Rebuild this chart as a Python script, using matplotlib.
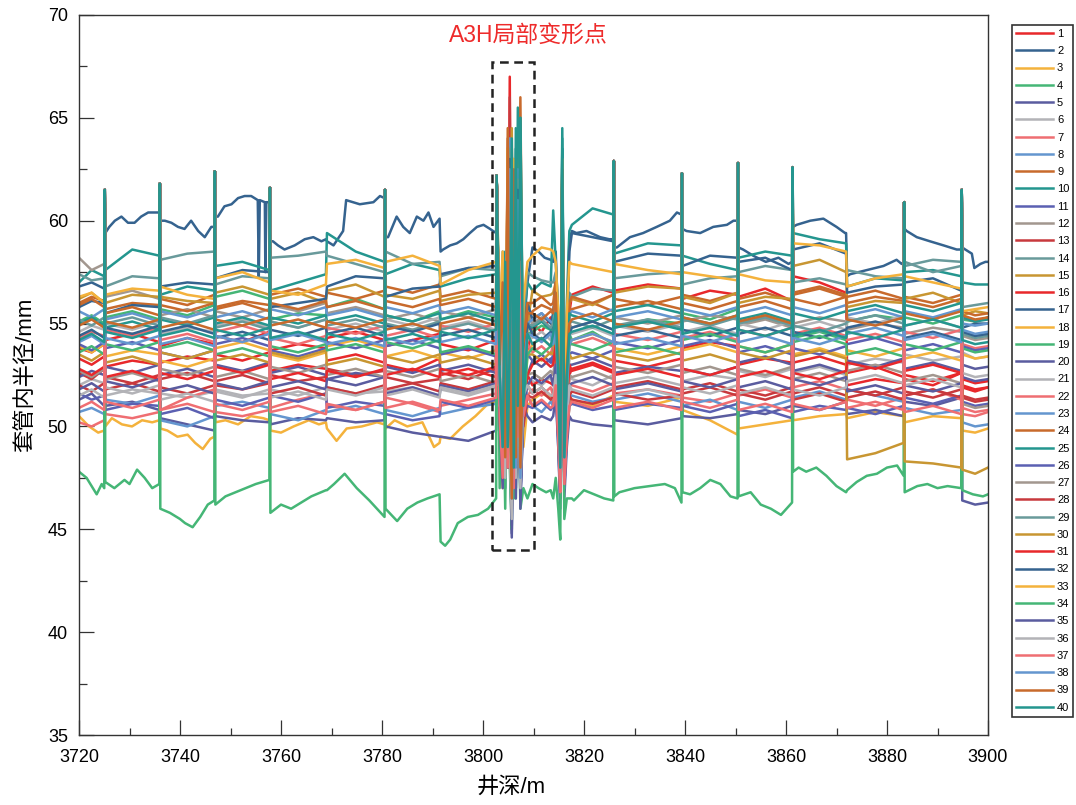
import matplotlib
matplotlib.use("Agg")
import matplotlib.pyplot as plt
from matplotlib.patches import Rectangle

plt.rcParams['font.family'] = ['Liberation Sans', 'Noto Sans CJK SC']

# pipe sections between collars (start / end depth, m)
seg_start = [3720.0, 3725.2, 3736.1, 3747.0, 3757.9, 3769.1, 3780.7, 3791.6, 3809.8,
             3817.6, 3826.0, 3839.5, 3850.6, 3861.4, 3872.1, 3883.5, 3894.9]
seg_end = [3725.0, 3735.9, 3746.8, 3757.7, 3768.9, 3780.5, 3791.4, 3802.6, 3813.4,
           3825.8, 3839.3, 3850.4, 3861.2, 3871.9, 3883.3, 3894.7, 3900.0]

# collar spikes
joint_depth = [3725.1, 3736.0, 3746.9, 3757.8, 3780.6, 3802.7, 3825.9, 3839.4, 3850.5, 3861.3, 3883.4, 3894.8]
joint_peak = [61.5, 61.8, 62.4, 61.6, 61.5, 62.2, 62.9, 62.3, 62.8, 62.6, 60.9, 61.5]

# A3H deformation zone, one row per arm
burst1_depth = [3803.3, 3803.9, 3804.4, 3804.9, 3805.3, 3805.7, 3806.1, 3806.5, 3806.9, 3807.4, 3808.0, 3808.8]
burst1 = [
    [51.5, 48.5, 56.0, 49.5, 67.0, 47.0, 59.0, 48.0, 62.5, 47.5, 52.0, 53.5],
    [53.0, 57.5, 48.5, 61.5, 50.5, 46.5, 62.0, 49.0, 57.0, 48.5, 54.5, 57.0],
    [50.0, 47.0, 56.5, 48.0, 52.0, 61.0, 47.5, 60.0, 50.0, 58.0, 49.0, 51.0],
    [52.0, 49.0, 55.0, 49.5, 63.0, 46.5, 57.5, 47.5, 62.0, 46.5, 52.5, 54.5],
    [50.5, 54.0, 47.5, 60.0, 49.0, 44.6, 60.5, 48.0, 56.0, 47.0, 51.0, 50.5],
    [51.0, 48.0, 57.0, 48.5, 53.0, 62.0, 48.0, 61.0, 50.5, 57.5, 50.0, 52.0],
    [50.5, 47.5, 56.0, 49.0, 65.5, 47.0, 58.0, 47.5, 63.0, 47.0, 51.0, 51.5],
    [51.5, 55.5, 48.0, 62.0, 50.0, 45.5, 61.5, 48.5, 56.0, 47.5, 52.0, 51.5],
    [52.5, 49.0, 57.5, 49.5, 53.5, 63.5, 48.5, 62.5, 51.0, 66.0, 50.5, 55.0],
    [54.5, 50.0, 58.0, 50.5, 64.0, 47.5, 60.5, 49.0, 65.5, 48.0, 55.0, 57.0],
    [50.0, 54.5, 47.0, 60.5, 49.5, 45.0, 60.0, 47.5, 55.0, 46.5, 50.5, 51.0],
    [53.5, 49.5, 57.0, 49.0, 54.0, 62.5, 48.0, 61.5, 50.5, 57.0, 51.5, 55.5],
    [51.0, 48.0, 55.5, 48.5, 66.0, 46.5, 58.5, 47.5, 62.0, 47.0, 51.5, 52.0],
    [54.0, 58.5, 49.5, 62.5, 51.0, 47.0, 61.5, 49.5, 57.5, 49.0, 55.5, 57.5],
    [52.5, 48.5, 57.5, 49.0, 53.0, 64.5, 48.0, 63.0, 51.0, 60.5, 51.0, 55.0],
    [51.0, 55.5, 48.0, 63.0, 50.0, 46.0, 62.5, 48.5, 57.5, 47.5, 51.5, 52.5],
    [53.0, 49.0, 56.5, 49.5, 62.5, 46.5, 59.0, 48.5, 61.0, 48.0, 53.5, 56.0],
    [51.5, 48.0, 56.0, 48.5, 52.5, 63.0, 47.5, 62.0, 50.0, 64.0, 50.5, 53.5],
    [47.0, 53.5, 46.0, 58.0, 48.0, 45.0, 59.0, 46.5, 54.0, 46.0, 47.0, 46.5],
    [51.0, 47.5, 55.5, 48.0, 61.5, 44.8, 57.0, 47.0, 60.5, 46.5, 51.0, 52.5],
    [52.5, 56.5, 48.5, 63.5, 50.5, 46.0, 62.0, 48.5, 56.5, 47.5, 53.0, 54.5],
    [52.0, 48.5, 57.0, 49.0, 53.5, 62.5, 47.5, 61.5, 50.5, 59.0, 51.5, 54.0],
    [53.0, 49.0, 56.0, 49.5, 64.0, 46.0, 58.5, 48.0, 62.5, 47.5, 53.0, 55.0],
    [53.5, 57.0, 48.5, 64.5, 51.0, 46.5, 63.0, 49.0, 58.0, 48.5, 54.0, 56.0],
    [53.0, 49.5, 58.5, 49.5, 54.5, 64.0, 48.5, 63.5, 51.5, 65.0, 51.5, 55.0],
    [51.5, 47.5, 56.0, 48.5, 62.0, 45.5, 57.5, 47.0, 60.0, 46.5, 52.0, 53.5],
    [51.5, 56.0, 48.0, 62.0, 49.5, 46.0, 61.0, 48.0, 56.0, 47.0, 52.0, 52.5],
    [50.5, 47.5, 56.5, 48.0, 52.0, 63.0, 47.0, 61.5, 49.5, 58.5, 50.0, 51.5],
    [53.5, 49.5, 57.5, 49.5, 63.5, 47.0, 59.5, 48.5, 62.0, 48.0, 54.0, 55.0],
    [52.0, 56.5, 48.0, 63.5, 50.5, 46.0, 62.5, 48.0, 57.0, 47.5, 52.5, 53.5],
    [51.0, 48.0, 56.5, 48.5, 53.0, 62.5, 47.5, 61.0, 50.0, 57.0, 50.5, 52.5],
    [53.0, 49.5, 56.5, 49.5, 63.0, 46.5, 58.5, 48.5, 61.5, 48.0, 53.5, 55.0],
    [55.0, 58.5, 49.5, 63.5, 52.0, 47.5, 63.0, 50.0, 59.0, 49.0, 56.0, 58.0],
    [51.5, 47.5, 55.5, 48.5, 52.0, 61.5, 46.5, 60.5, 49.0, 56.5, 50.5, 53.5],
    [50.5, 47.0, 55.0, 48.0, 61.0, 45.2, 57.0, 46.5, 59.5, 46.0, 51.0, 52.0],
    [51.0, 55.0, 47.5, 61.5, 49.5, 45.5, 61.0, 47.5, 55.5, 47.0, 51.5, 52.0],
    [50.5, 47.5, 56.0, 48.0, 52.5, 62.0, 47.0, 60.5, 49.5, 58.0, 50.5, 51.5],
    [52.5, 49.0, 56.0, 49.0, 62.5, 46.5, 58.0, 48.0, 61.0, 47.5, 53.0, 54.5],
    [53.0, 57.0, 48.5, 64.0, 51.0, 46.5, 62.5, 48.5, 58.0, 48.0, 54.0, 55.5],
    [52.5, 49.0, 58.0, 49.0, 54.0, 63.5, 48.0, 64.5, 51.0, 65.0, 51.0, 54.5],
]

# second disturbance near 3815 m, one row per arm
burst2_depth = [3813.9, 3814.4, 3814.9, 3815.3, 3815.7, 3816.1, 3816.6, 3817.1]
burst2 = [
    [54.5, 55.5, 52.0, 47.5, 60.0, 47.0, 50.0, 55.5],
    [58.0, 58.5, 55.0, 49.0, 63.5, 50.0, 55.0, 59.0],
    [51.0, 52.0, 49.5, 46.5, 59.0, 47.5, 49.5, 51.0],
    [54.5, 55.0, 52.0, 48.0, 61.0, 48.5, 52.0, 54.5],
    [50.5, 51.5, 49.0, 46.0, 58.5, 46.5, 49.0, 50.5],
    [52.0, 53.0, 50.0, 47.0, 59.5, 47.5, 50.5, 52.5],
    [51.5, 52.5, 50.0, 47.0, 60.0, 48.0, 50.0, 52.0],
    [51.0, 52.0, 49.5, 46.5, 59.0, 47.0, 49.5, 51.5],
    [55.5, 56.5, 53.0, 48.5, 62.5, 49.0, 53.0, 55.5],
    [60.5, 58.0, 55.5, 49.5, 64.5, 50.5, 56.0, 59.5],
    [51.0, 52.0, 49.0, 46.5, 59.0, 47.0, 49.5, 51.0],
    [55.0, 56.0, 52.5, 48.0, 61.0, 48.5, 52.0, 55.0],
    [51.5, 52.5, 50.0, 47.0, 59.5, 47.5, 50.0, 51.5],
    [57.0, 57.5, 54.0, 49.0, 62.5, 49.5, 54.5, 56.5],
    [56.5, 57.0, 53.5, 48.5, 62.0, 49.0, 53.5, 56.0],
    [52.0, 53.0, 50.5, 47.5, 60.0, 47.2, 50.0, 52.5],
    [55.5, 57.0, 53.5, 48.5, 63.0, 49.5, 54.5, 58.5],
    [54.0, 55.0, 52.0, 47.5, 61.0, 48.0, 51.5, 54.0],
    [46.5, 47.5, 46.0, 44.5, 57.5, 45.5, 46.5, 46.5],
    [53.0, 54.0, 51.0, 47.0, 60.5, 47.5, 51.0, 53.0],
    [54.5, 55.5, 52.5, 48.0, 61.5, 48.5, 52.5, 54.5],
    [54.0, 55.0, 52.0, 48.0, 61.0, 48.0, 52.0, 54.0],
    [55.0, 56.0, 53.0, 48.5, 62.0, 49.0, 53.0, 55.5],
    [56.0, 57.0, 53.5, 48.5, 62.5, 49.5, 53.5, 56.0],
    [55.0, 56.5, 53.0, 48.5, 63.5, 49.0, 53.0, 55.5],
    [53.5, 54.5, 51.5, 47.5, 60.5, 48.0, 51.5, 53.5],
    [52.5, 53.5, 50.5, 47.5, 60.0, 48.0, 50.5, 52.5],
    [51.5, 52.5, 49.5, 47.0, 59.5, 47.5, 49.5, 51.5],
    [55.0, 56.0, 53.0, 48.5, 62.0, 49.0, 53.0, 55.0],
    [53.5, 54.5, 51.5, 47.5, 61.0, 48.0, 51.5, 53.5],
    [53.0, 54.0, 51.0, 47.3, 60.5, 47.5, 51.0, 53.0],
    [54.5, 55.5, 52.5, 48.0, 62.0, 48.5, 52.5, 54.5],
    [58.5, 58.0, 55.5, 49.5, 63.0, 50.0, 55.5, 58.0],
    [54.0, 55.0, 51.5, 47.5, 60.5, 48.0, 51.5, 54.0],
    [52.0, 53.0, 50.5, 47.0, 59.5, 47.5, 50.5, 52.0],
    [51.5, 52.5, 50.0, 47.0, 59.0, 47.5, 50.0, 52.0],
    [51.0, 52.0, 49.5, 46.8, 59.0, 47.2, 49.5, 51.0],
    [54.0, 55.0, 52.0, 48.0, 61.5, 48.5, 52.0, 54.0],
    [55.5, 56.5, 53.0, 48.5, 62.5, 49.0, 53.0, 55.0],
    [54.5, 55.5, 52.5, 48.0, 64.0, 48.5, 52.5, 54.5],
]

# radius per arm: start / middle / end of every pipe section
r1 = [53.8, 53.6, 54.0, 54.2, 54.5, 54.1, 53.9, 54.3, 54.0, 54.4, 54.1, 54.6, 53.7, 54.0, 53.8, 54.3, 54.6, 54.2, 53.9, 54.2, 54.5, 54.0, 53.7, 54.2, 55.0, 54.6, 55.3, 56.4, 56.8, 56.5, 56.6, 56.9, 56.7, 56.2, 56.6, 56.4, 56.3, 56.7, 56.1, 57.3, 57.0, 56.5, 52.6, 52.9, 52.4, 52.3, 52.0, 52.6, 51.9, 51.7, 51.9]
r2 = [56.8, 57.0, 56.7, 59.4, 60.0, 60.4, 60.0, 59.7, 59.7, 60.2, 61.0, 60.9, 59.0, 58.8, 59.1, 59.0, 60.0, 61.1, 59.2, 60.0, 60.1, 58.5, 59.3, 59.4, 58.7, 58.4, 58.1, 59.5, 59.3, 59.1, 58.7, 59.5, 60.3, 59.6, 59.6, 60.0, 58.7, 58.3, 58.0, 59.7, 60.0, 59.4, 57.3, 57.6, 58.0, 59.6, 59.0, 58.6, 58.7, 58.0, 58.0]
r3 = [50.5, 50.2, 49.8, 50.0, 50.2, 50.3, 49.9, 49.4, 49.5, 50.2, 50.1, 50.3, 49.8, 50.1, 50.2, 49.9, 49.4, 50.1, 49.9, 49.5, 49.2, 49.5, 50.3, 51.2, 51.3, 51.6, 51.4, 51.3, 51.0, 51.5, 51.2, 51.0, 51.4, 50.8, 50.3, 49.6, 49.9, 50.1, 50.3, 50.3, 50.5, 50.6, 50.4, 50.7, 50.5, 50.2, 50.5, 50.4, 49.8, 49.7, 49.9]
r4 = [55.1, 55.4, 55.0, 55.3, 55.6, 55.2, 55.7, 55.4, 55.9, 56.3, 56.6, 56.2, 55.2, 55.5, 55.4, 55.8, 56.2, 55.7, 55.4, 55.1, 55.6, 55.2, 55.6, 55.3, 54.6, 54.9, 54.7, 54.2, 54.6, 54.0, 54.8, 55.2, 55.0, 55.5, 55.2, 55.7, 55.0, 55.3, 54.9, 54.3, 54.6, 54.2, 55.1, 55.4, 55.2, 55.3, 55.0, 55.4, 55.2, 55.1, 55.3]
r5 = [51.3, 51.6, 51.0, 51.0, 51.2, 50.8, 50.4, 50.1, 49.8, 50.5, 50.3, 50.2, 50.1, 50.4, 50.3, 50.4, 50.2, 50.3, 50.0, 49.7, 49.5, 49.5, 49.3, 49.8, 50.2, 50.5, 50.3, 50.3, 50.1, 50.0, 50.3, 50.1, 50.4, 50.5, 50.4, 50.6, 50.8, 50.6, 51.0, 51.0, 50.8, 51.2, 50.6, 50.8, 50.5, 51.2, 51.0, 51.4, 46.4, 46.2, 46.3]
r6 = [52.0, 52.3, 52.1, 51.5, 51.8, 51.6, 51.6, 51.4, 51.7, 51.8, 51.5, 51.6, 51.8, 51.5, 51.9, 51.9, 51.6, 51.7, 51.7, 51.9, 51.5, 51.8, 51.5, 51.9, 52.2, 52.0, 52.4, 52.3, 52.0, 52.5, 52.1, 52.4, 52.0, 52.2, 52.5, 52.3, 52.7, 52.4, 52.8, 52.6, 52.9, 52.5, 53.0, 53.3, 53.1, 53.5, 53.2, 53.4, 53.6, 53.3, 53.4]
r7 = [50.2, 50.0, 50.3, 50.6, 50.4, 50.7, 50.8, 51.4, 51.8, 50.7, 50.5, 50.8, 50.9, 51.3, 51.6, 51.0, 50.8, 51.2, 51.4, 51.1, 50.7, 51.0, 51.3, 51.6, 51.8, 51.5, 51.9, 52.0, 51.7, 52.1, 51.6, 51.8, 51.5, 51.4, 51.2, 51.6, 51.5, 51.8, 51.4, 51.9, 52.2, 51.8, 51.3, 51.0, 51.4, 51.5, 51.8, 51.3, 50.6, 50.5, 50.7]
r8 = [50.7, 50.9, 50.6, 51.3, 51.1, 51.5, 50.3, 50.0, 50.5, 51.0, 51.2, 50.9, 50.6, 50.3, 50.8, 50.7, 51.0, 50.6, 50.8, 50.5, 50.9, 50.6, 50.9, 51.1, 51.0, 50.7, 51.2, 51.5, 51.2, 51.4, 51.3, 51.6, 51.2, 51.0, 51.3, 50.8, 51.2, 50.9, 51.3, 51.4, 51.7, 51.3, 51.8, 51.5, 51.2, 50.9, 50.6, 50.8, 50.2, 50.0, 50.1]
r9 = [56.0, 56.3, 56.1, 55.7, 56.0, 55.9, 56.2, 55.9, 56.4, 55.8, 56.1, 55.9, 56.4, 56.7, 56.3, 56.5, 56.2, 56.6, 56.8, 56.5, 56.9, 56.3, 56.6, 56.2, 55.6, 55.9, 55.7, 55.7, 56.0, 55.6, 56.2, 55.9, 56.3, 56.4, 56.1, 56.5, 56.2, 56.5, 56.1, 56.5, 56.8, 56.4, 56.0, 56.3, 56.1, 56.3, 56.0, 56.4, 55.3, 55.1, 55.3]
r10 = [57.0, 57.6, 57.3, 57.6, 58.6, 58.3, 56.4, 56.8, 56.6, 57.8, 58.0, 57.6, 56.6, 57.0, 57.4, 59.4, 58.5, 58.0, 57.4, 57.9, 57.6, 56.8, 57.2, 57.4, 56.6, 57.0, 56.8, 59.8, 60.6, 60.3, 58.4, 58.9, 58.8, 58.3, 57.9, 57.6, 58.2, 58.5, 58.3, 59.4, 59.1, 58.9, 56.8, 57.2, 57.1, 57.5, 57.6, 57.3, 57.0, 56.9, 56.9]
r11 = [51.6, 51.3, 51.5, 50.8, 51.1, 51.0, 50.6, 50.9, 50.4, 51.3, 51.0, 51.4, 51.5, 51.2, 51.6, 50.9, 51.2, 51.0, 50.6, 50.3, 50.5, 51.2, 50.9, 51.3, 50.9, 51.2, 50.8, 51.1, 50.8, 51.0, 50.8, 51.1, 50.9, 51.0, 50.7, 51.1, 50.5, 50.8, 50.4, 50.7, 51.0, 50.8, 50.9, 50.6, 51.0, 51.4, 51.1, 51.5, 51.2, 51.0, 51.1]
r12 = [58.2, 57.6, 57.9, 56.3, 56.6, 56.2, 55.4, 55.7, 55.3, 55.6, 55.3, 55.7, 55.9, 55.6, 56.0, 55.5, 55.8, 55.4, 55.2, 55.5, 55.1, 55.6, 55.3, 55.7, 55.0, 55.3, 55.1, 54.8, 55.1, 54.7, 55.3, 55.0, 55.4, 55.1, 55.4, 55.2, 54.9, 55.2, 54.8, 55.0, 55.3, 55.1, 54.7, 55.0, 54.8, 54.5, 54.8, 54.6, 54.4, 54.2, 54.3]
r13 = [52.6, 52.3, 52.8, 52.4, 52.1, 52.5, 52.3, 52.6, 52.2, 52.0, 51.8, 52.1, 52.5, 52.2, 52.4, 52.8, 52.5, 52.7, 52.4, 52.1, 52.3, 52.6, 52.3, 52.8, 51.6, 51.9, 51.5, 51.3, 51.1, 51.4, 51.6, 51.3, 51.5, 51.8, 52.1, 51.7, 51.6, 51.3, 51.7, 51.3, 51.6, 51.2, 51.8, 51.5, 51.9, 51.5, 51.8, 51.4, 51.4, 51.2, 51.3]
r14 = [57.4, 57.1, 57.2, 56.8, 57.3, 57.2, 58.1, 58.4, 58.5, 56.9, 57.3, 57.2, 58.2, 58.3, 58.5, 58.3, 57.9, 57.5, 58.5, 57.9, 58.0, 57.3, 57.7, 57.6, 57.3, 57.1, 57.0, 56.3, 56.7, 56.6, 57.2, 57.4, 57.5, 56.9, 57.2, 57.3, 57.5, 57.8, 57.6, 57.0, 57.2, 56.9, 57.6, 57.3, 57.2, 57.8, 58.1, 58.0, 55.8, 55.9, 56.0]
r15 = [56.2, 56.5, 56.0, 56.0, 56.4, 56.3, 56.3, 56.1, 56.0, 56.5, 56.8, 56.4, 56.2, 56.5, 56.0, 56.6, 56.9, 56.3, 56.4, 56.2, 56.6, 56.1, 56.4, 56.5, 56.6, 56.3, 56.4, 56.2, 55.9, 56.4, 56.5, 56.8, 56.7, 56.3, 56.0, 56.5, 56.0, 56.3, 56.2, 57.8, 58.1, 57.5, 55.8, 56.1, 56.0, 56.2, 56.5, 56.0, 55.4, 55.6, 55.5]
r16 = [53.3, 53.0, 53.4, 52.9, 53.2, 53.0, 53.1, 53.4, 53.2, 53.5, 53.2, 53.6, 52.7, 53.0, 52.8, 53.2, 53.5, 53.1, 53.0, 52.7, 53.3, 52.5, 52.8, 52.4, 52.0, 52.3, 52.1, 52.8, 53.1, 52.7, 53.2, 52.9, 53.3, 53.8, 54.1, 53.9, 53.0, 53.3, 53.1, 53.1, 53.4, 53.0, 52.0, 52.3, 52.1, 52.5, 52.2, 52.6, 52.0, 51.8, 51.9]
r17 = [55.8, 56.1, 56.0, 55.5, 55.9, 55.8, 56.8, 57.0, 56.9, 57.2, 57.6, 57.5, 55.8, 56.0, 56.2, 56.8, 57.3, 57.2, 56.3, 56.7, 56.8, 57.4, 57.7, 57.8, 55.2, 55.5, 55.0, 59.4, 59.2, 59.0, 58.0, 58.4, 58.3, 57.8, 58.3, 58.2, 58.0, 58.2, 57.6, 58.6, 58.9, 58.4, 56.5, 56.8, 56.9, 57.0, 57.2, 56.6, 54.8, 55.0, 55.0]
r18 = [53.9, 53.6, 54.0, 53.4, 53.7, 53.5, 53.2, 52.9, 53.3, 53.8, 54.1, 53.7, 53.5, 53.2, 53.6, 53.9, 54.2, 53.8, 53.4, 53.7, 53.3, 53.6, 53.3, 53.7, 54.0, 54.3, 53.9, 54.2, 54.5, 54.1, 53.8, 53.5, 53.9, 53.7, 54.0, 53.6, 53.9, 53.6, 54.0, 53.5, 53.8, 53.4, 53.7, 53.4, 53.8, 53.3, 53.6, 53.2, 53.5, 53.3, 53.4]
r19 = [47.8, 47.3, 47.0, 47.3, 47.4, 47.2, 46.0, 45.4, 46.4, 46.2, 46.8, 47.4, 45.8, 46.2, 46.9, 46.9, 47.2, 45.6, 46.0, 46.0, 46.7, 44.4, 45.4, 46.5, 47.2, 47.0, 46.9, 46.5, 46.7, 46.4, 46.6, 47.0, 46.3, 46.8, 47.0, 46.5, 46.6, 46.1, 46.3, 47.8, 47.7, 46.8, 46.9, 47.6, 47.6, 46.8, 47.1, 47.0, 46.9, 46.7, 46.7]
r20 = [52.4, 52.7, 52.5, 52.9, 52.6, 53.0, 52.5, 52.8, 52.4, 53.0, 52.7, 53.1, 52.6, 52.9, 52.5, 52.3, 52.6, 52.4, 52.9, 52.6, 53.0, 52.7, 53.0, 52.6, 53.2, 52.9, 53.3, 53.0, 53.3, 52.9, 52.6, 52.9, 52.7, 52.8, 52.5, 52.9, 53.1, 53.4, 53.0, 52.7, 53.0, 52.6, 53.2, 52.9, 53.3, 52.8, 53.1, 52.7, 53.0, 52.8, 52.9]
r21 = [54.6, 54.9, 54.7, 55.0, 54.7, 55.1, 54.5, 54.8, 54.6, 54.9, 55.2, 54.8, 55.1, 54.8, 55.2, 54.7, 55.0, 54.6, 55.2, 54.9, 55.3, 54.8, 55.1, 54.7, 54.3, 54.6, 54.2, 54.5, 54.8, 54.4, 54.9, 54.6, 55.0, 54.6, 54.9, 54.5, 55.0, 54.7, 55.1, 54.8, 55.1, 54.7, 55.3, 55.0, 55.4, 54.9, 55.2, 54.8, 54.6, 54.4, 54.5]
r22 = [54.3, 54.6, 54.4, 54.7, 54.4, 54.8, 54.2, 54.5, 54.1, 54.6, 54.9, 54.5, 54.3, 54.0, 54.4, 54.8, 54.5, 54.9, 54.4, 54.7, 54.3, 54.9, 54.6, 55.0, 53.6, 53.9, 53.5, 54.0, 54.3, 53.9, 54.5, 54.2, 54.6, 54.3, 54.6, 54.2, 54.7, 54.4, 54.8, 54.5, 54.8, 54.4, 54.2, 54.5, 54.1, 54.6, 54.3, 54.7, 54.0, 53.8, 53.9]
r23 = [55.6, 55.3, 55.7, 55.2, 55.5, 55.1, 55.6, 55.3, 55.7, 55.3, 55.6, 55.2, 55.7, 55.4, 55.8, 55.4, 55.7, 55.3, 55.8, 55.5, 55.9, 55.5, 55.8, 55.4, 55.2, 55.5, 55.1, 55.6, 55.3, 55.7, 55.3, 55.6, 55.2, 55.7, 55.4, 55.8, 55.5, 55.8, 55.4, 55.8, 55.5, 55.9, 55.4, 55.7, 55.3, 55.6, 55.3, 55.7, 55.0, 54.9, 55.0]
r24 = [55.9, 56.2, 55.8, 55.5, 55.8, 55.4, 55.9, 55.6, 56.0, 55.7, 56.0, 55.6, 56.0, 55.7, 56.1, 55.8, 56.1, 55.7, 56.1, 55.8, 56.2, 55.9, 56.2, 55.8, 56.0, 56.3, 55.9, 56.3, 56.0, 56.4, 55.8, 56.1, 55.7, 56.0, 55.7, 56.1, 55.8, 56.1, 55.7, 56.2, 55.9, 56.3, 56.3, 56.6, 56.2, 56.1, 55.8, 56.2, 55.6, 55.4, 55.5]
r25 = [55.0, 55.3, 54.9, 54.8, 55.1, 54.7, 55.2, 54.9, 55.3, 55.0, 55.3, 54.9, 55.3, 55.0, 55.4, 55.1, 55.4, 55.0, 55.4, 55.1, 55.5, 55.2, 55.5, 55.1, 54.8, 55.1, 54.7, 55.4, 55.1, 55.5, 55.6, 55.9, 55.5, 55.3, 55.0, 55.4, 55.2, 55.5, 55.1, 55.5, 55.2, 55.6, 55.6, 55.9, 55.5, 55.9, 55.6, 56.0, 55.3, 55.1, 55.2]
r26 = [54.0, 53.7, 54.1, 53.8, 54.1, 53.7, 53.6, 53.3, 53.7, 54.0, 54.3, 53.9, 53.7, 53.4, 53.8, 54.1, 53.8, 54.2, 53.9, 54.2, 53.8, 53.5, 53.8, 53.4, 53.2, 53.5, 53.1, 53.6, 53.3, 53.7, 54.1, 53.8, 54.2, 53.9, 54.2, 53.8, 53.6, 53.9, 53.5, 53.8, 53.5, 53.9, 54.0, 54.3, 53.9, 53.7, 54.0, 53.6, 53.9, 53.7, 53.8]
r27 = [52.7, 52.4, 52.8, 52.3, 52.6, 52.2, 52.8, 52.5, 52.9, 52.4, 52.7, 52.3, 52.9, 52.6, 53.0, 52.5, 52.8, 52.4, 52.7, 52.4, 52.8, 52.2, 52.5, 52.1, 52.6, 52.3, 52.7, 52.4, 52.7, 52.3, 52.9, 52.6, 53.0, 52.6, 52.9, 52.5, 52.8, 52.5, 52.9, 52.3, 52.6, 52.2, 52.7, 53.0, 52.6, 52.2, 52.5, 52.1, 51.1, 50.9, 51.0]
r28 = [52.0, 51.7, 52.1, 51.8, 52.1, 51.7, 51.9, 51.6, 52.0, 52.2, 52.5, 52.1, 51.6, 51.9, 51.5, 51.9, 51.6, 52.0, 51.8, 52.1, 51.7, 52.1, 51.8, 52.2, 51.4, 51.7, 51.3, 51.7, 51.4, 51.8, 51.9, 52.2, 51.8, 51.6, 51.9, 51.5, 51.8, 51.5, 51.9, 51.6, 51.9, 51.5, 51.4, 51.7, 51.3, 51.7, 51.4, 51.8, 51.5, 51.3, 51.4]
r29 = [55.2, 54.9, 55.3, 55.0, 55.3, 54.9, 55.3, 55.0, 55.4, 54.8, 55.1, 54.7, 55.1, 54.8, 55.2, 54.9, 55.2, 54.8, 55.0, 54.7, 55.1, 54.7, 55.0, 54.6, 54.9, 55.2, 54.8, 55.1, 54.8, 55.2, 54.9, 55.2, 54.8, 55.2, 54.9, 55.3, 55.0, 55.3, 54.9, 54.9, 54.6, 55.0, 55.1, 55.4, 55.0, 58.0, 57.5, 57.8, 54.5, 54.3, 54.4]
r30 = [53.5, 53.2, 53.6, 53.1, 53.4, 53.0, 53.6, 53.3, 53.7, 53.2, 53.5, 53.1, 53.6, 53.3, 53.7, 53.0, 53.3, 52.9, 53.4, 53.1, 53.5, 53.1, 53.4, 53.0, 53.5, 53.2, 53.6, 53.3, 53.6, 53.2, 53.5, 53.2, 53.6, 53.2, 53.5, 53.1, 53.6, 53.3, 53.7, 53.4, 53.7, 53.3, 48.4, 48.7, 49.2, 48.3, 48.2, 48.0, 47.9, 47.7, 48.0]
r31 = [52.8, 52.5, 52.9, 52.4, 52.7, 52.3, 52.6, 52.3, 52.7, 52.9, 52.6, 53.0, 52.3, 52.6, 52.2, 52.7, 52.4, 52.8, 52.5, 52.8, 52.4, 52.8, 52.5, 52.9, 53.0, 53.3, 52.9, 52.7, 53.0, 52.6, 52.5, 52.8, 52.4, 52.8, 52.5, 52.9, 52.4, 52.7, 52.3, 52.6, 52.3, 52.7, 53.1, 52.8, 53.2, 52.7, 53.0, 52.6, 52.3, 52.1, 52.2]
r32 = [54.4, 54.7, 54.3, 54.8, 54.5, 54.9, 54.6, 54.9, 54.5, 54.3, 54.6, 54.2, 54.7, 54.4, 54.8, 54.5, 54.8, 54.4, 54.9, 54.6, 55.0, 54.4, 54.7, 54.3, 54.5, 54.2, 54.6, 54.8, 55.1, 54.7, 54.4, 54.7, 54.3, 54.7, 54.4, 54.8, 54.5, 54.8, 54.4, 54.6, 54.3, 54.7, 54.8, 55.1, 54.7, 54.3, 54.6, 54.2, 54.6, 54.4, 54.5]
r33 = [56.3, 56.5, 56.0, 56.4, 56.7, 56.6, 56.8, 56.4, 56.2, 57.2, 57.5, 57.0, 56.6, 56.4, 56.9, 57.9, 58.1, 57.7, 58.0, 58.3, 57.8, 56.9, 57.6, 58.0, 58.3, 58.7, 58.6, 57.9, 57.7, 57.5, 57.9, 57.6, 57.4, 57.5, 57.3, 57.1, 57.4, 57.1, 57.0, 58.9, 58.8, 58.5, 56.8, 57.2, 57.4, 57.3, 57.0, 56.7, 55.6, 55.7, 55.8]
r34 = [53.6, 53.9, 53.5, 54.0, 53.7, 54.1, 53.8, 54.1, 53.7, 53.5, 53.8, 53.4, 53.9, 53.6, 54.0, 53.7, 54.0, 53.6, 54.1, 53.8, 54.2, 53.6, 53.9, 53.5, 53.8, 53.5, 53.9, 54.0, 53.7, 54.1, 53.6, 53.9, 53.5, 54.2, 54.5, 54.1, 53.9, 53.6, 54.0, 54.1, 54.4, 54.0, 53.5, 53.8, 53.4, 54.0, 53.7, 54.1, 53.8, 53.6, 53.7]
r35 = [51.8, 52.1, 51.7, 52.2, 51.9, 52.3, 51.7, 52.0, 51.6, 52.1, 51.8, 52.2, 51.9, 52.2, 51.8, 52.3, 52.0, 52.4, 51.6, 51.9, 51.5, 52.0, 51.7, 52.1, 52.4, 52.1, 52.5, 52.1, 52.4, 52.0, 51.8, 52.1, 51.7, 52.2, 51.9, 52.3, 51.9, 52.2, 51.8, 52.3, 52.0, 52.4, 51.7, 52.0, 51.6, 52.0, 51.7, 52.1, 52.4, 52.2, 52.3]
r36 = [51.5, 51.8, 51.4, 51.9, 51.6, 52.0, 51.3, 51.6, 51.2, 51.7, 51.4, 51.8, 51.4, 51.7, 51.3, 51.8, 51.5, 51.9, 51.5, 51.8, 51.4, 51.9, 51.6, 52.0, 51.6, 51.9, 51.5, 51.8, 51.5, 51.9, 51.5, 51.8, 51.4, 51.9, 51.6, 52.0, 51.6, 51.9, 51.5, 51.8, 51.5, 51.9, 52.2, 52.5, 52.1, 52.0, 52.3, 51.9, 52.6, 52.4, 52.5]
r37 = [50.9, 51.2, 50.8, 51.2, 50.9, 51.3, 50.8, 51.1, 50.7, 51.1, 50.8, 51.2, 50.7, 51.0, 50.6, 51.1, 50.8, 51.2, 50.9, 51.2, 50.8, 51.3, 51.0, 51.4, 51.0, 51.3, 50.9, 51.2, 50.9, 51.3, 50.9, 51.2, 50.8, 51.2, 50.9, 51.3, 50.8, 51.1, 50.7, 51.1, 50.8, 51.2, 50.9, 51.2, 50.8, 50.7, 51.0, 50.6, 50.9, 50.7, 50.8]
r38 = [54.1, 54.4, 54.0, 54.3, 54.0, 54.4, 54.0, 54.3, 53.9, 54.4, 54.1, 54.5, 54.2, 54.5, 54.1, 54.0, 54.3, 53.9, 54.3, 54.0, 54.4, 54.1, 54.4, 54.0, 54.4, 54.1, 54.5, 54.2, 54.5, 54.1, 54.0, 54.3, 53.9, 54.4, 54.1, 54.5, 54.1, 54.4, 54.0, 54.3, 54.0, 54.4, 54.5, 54.8, 54.4, 54.2, 54.5, 54.1, 54.7, 54.5, 54.6]
r39 = [54.9, 55.2, 54.8, 55.1, 54.8, 55.2, 54.8, 55.1, 54.7, 55.2, 54.9, 55.3, 54.9, 55.2, 54.8, 55.1, 54.8, 55.2, 54.7, 55.0, 54.6, 55.0, 55.3, 54.9, 55.5, 55.2, 55.6, 55.2, 55.5, 55.1, 55.0, 54.7, 55.1, 55.3, 55.0, 55.4, 55.1, 55.4, 55.0, 56.4, 56.7, 56.3, 55.2, 54.9, 55.3, 55.5, 55.2, 55.6, 55.4, 55.2, 55.3]
r40 = [54.2, 54.5, 54.1, 54.6, 54.3, 54.7, 54.4, 54.7, 54.3, 54.7, 54.4, 54.8, 54.3, 54.6, 54.2, 54.5, 54.2, 54.6, 54.2, 54.5, 54.1, 54.6, 54.3, 54.7, 54.0, 54.3, 53.9, 54.6, 54.9, 54.5, 54.8, 55.1, 54.7, 54.5, 54.8, 54.4, 54.7, 54.4, 54.8, 54.4, 54.7, 54.3, 54.6, 54.3, 54.7, 54.9, 55.2, 54.8, 54.2, 54.0, 54.1]

# finer readings for the isolated arms (top dark blue, bottom green, lowest yellow)
r2_fine_depth = [3726.0, 3727.1, 3728.4, 3729.7, 3731.0, 3732.3, 3733.7, 3735.0,
                 3737.0, 3738.3, 3739.6, 3740.9, 3742.2, 3743.6, 3744.9, 3746.2,
                 3747.5, 3748.8, 3750.2, 3751.5, 3752.8, 3754.1, 3755.4, 3755.6, 3755.8, 3756.8, 3756.9, 3757.1,
                 3758.4, 3759.4, 3760.7, 3762.7, 3764.7, 3766.4, 3768.0,
                 3770.4, 3772.3, 3772.9, 3775.6, 3778.3, 3779.6,
                 3781.2, 3782.9, 3784.2, 3785.5, 3786.9, 3788.2, 3789.2, 3790.2,
                 3792.1, 3793.5, 3794.8, 3796.1, 3797.4, 3798.8, 3800.1, 3801.4,
                 3811.0, 3812.2,
                 3818.5, 3820.5, 3823.2, 3825.0,
                 3826.5, 3829.1, 3831.7, 3834.4, 3837.0, 3838.4,
                 3840.3, 3843.0, 3845.6, 3848.3, 3849.6,
                 3851.5, 3853.5, 3856.0, 3858.5, 3860.5,
                 3862.1, 3864.8, 3867.4, 3870.0, 3871.7,
                 3872.7, 3876.0, 3879.3, 3881.9, 3882.9,
                 3883.9, 3885.9, 3888.5, 3891.2, 3893.8,
                 3895.5, 3896.8, 3897.3, 3898.5, 3899.5]
r2_fine = [59.7, 60.0, 60.2, 59.9, 59.9, 60.2, 60.4, 60.4,
           60.0, 59.9, 59.7, 59.6, 60.0, 59.5, 59.2, 59.7,
           60.2, 60.7, 60.8, 61.1, 61.2, 61.2, 61.0, 57.3, 61.0, 60.9, 57.5, 60.9,
           59.0, 58.8, 58.6, 58.8, 59.1, 59.2, 59.0,
           58.8, 59.5, 61.0, 60.8, 60.9, 61.2,
           59.2, 60.2, 59.7, 59.4, 60.2, 60.0, 60.4, 59.7,
           58.6, 58.8, 58.9, 59.1, 59.4, 59.7, 59.8, 59.6,
           58.5, 58.2,
           59.4, 59.5, 59.2, 59.1,
           58.7, 59.2, 59.4, 59.7, 60.0, 60.4,
           59.5, 59.4, 59.7, 59.8, 60.0,
           58.6, 58.3, 58.0, 58.2, 57.9,
           59.8, 60.0, 60.1, 59.7, 59.4,
           57.4, 57.6, 57.8, 58.1, 57.9,
           59.5, 59.2, 59.0, 58.8, 58.6,
           58.6, 58.4, 57.7, 57.9, 58.0]

r19_fine_depth = [3721.5, 3723.5, 3724.5,
                  3727.0, 3729.0, 3730.0, 3731.5, 3733.0, 3734.5,
                  3738.0, 3740.0, 3741.0, 3742.5, 3744.0, 3745.5,
                  3749.0, 3751.0, 3753.0, 3755.0,
                  3760.0, 3762.0, 3764.0, 3766.0,
                  3770.5, 3772.6, 3775.0, 3777.5,
                  3783.0, 3785.0, 3787.0, 3789.0,
                  3792.5, 3793.5, 3795.0, 3797.0, 3799.0, 3801.0,
                  3811.0, 3812.5,
                  3818.0, 3820.0, 3822.0, 3824.0,
                  3827.0, 3830.0, 3833.0, 3836.0, 3838.0,
                  3841.0, 3843.0, 3845.0, 3847.0, 3849.0,
                  3853.0, 3855.0, 3857.0, 3859.0,
                  3862.5, 3864.0, 3866.0, 3868.0, 3870.0,
                  3874.0, 3876.0, 3878.0, 3880.0, 3882.0,
                  3886.0, 3888.0, 3890.0, 3892.0,
                  3897.0, 3899.0]
r19_fine = [47.5, 46.7, 47.2,
            47.0, 47.4, 47.2, 47.9, 47.5, 47.0,
            45.8, 45.5, 45.3, 45.1, 45.6, 46.2,
            46.6, 46.8, 47.0, 47.2,
            46.2, 46.0, 46.3, 46.6,
            47.2, 47.7, 47.0, 46.4,
            45.4, 46.0, 46.3, 46.5,
            44.2, 44.5, 45.3, 45.6, 45.7, 46.0,
            47.0, 46.8,
            46.4, 46.9, 46.7, 46.5,
            46.8, 47.0, 47.1, 47.2, 47.0,
            46.7, 47.0, 47.4, 47.2, 46.6,
            46.8, 46.2, 46.0, 45.7,
            48.0, 47.8, 48.0, 47.6, 47.1,
            47.3, 47.6, 47.7, 48.0, 48.1,
            47.1, 47.2, 47.0, 47.1,
            46.7, 46.6]

r3_fine_depth = [3722.0, 3723.8,
                 3726.5, 3728.5, 3730.5, 3732.5, 3734.5,
                 3737.5, 3739.5, 3741.5, 3743.0, 3744.5, 3746.0,
                 3749.0, 3751.5, 3754.0, 3756.5,
                 3760.0, 3762.5, 3765.5, 3767.5,
                 3771.0, 3773.0, 3776.0, 3779.0,
                 3782.5, 3785.0, 3788.0, 3790.3,
                 3793.5, 3796.0, 3798.5, 3801.0]
r3_fine = [50.0, 49.7,
           50.4, 50.1, 50.0, 50.3, 50.2,
           49.8, 49.5, 49.6, 49.2, 48.9, 49.4,
           50.3, 50.1, 50.5, 50.4,
           49.7, 50.0, 50.3, 50.1,
           49.3, 49.9, 50.0, 50.2,
           50.3, 50.0, 50.2, 49.0,
           49.4, 50.0, 50.5, 51.1]

curves = [r1, r2, r3, r4, r5, r6, r7, r8, r9, r10, r11, r12, r13, r14, r15, r16, r17, r18, r19, r20,
          r21, r22, r23, r24, r25, r26, r27, r28, r29, r30, r31, r32, r33, r34, r35, r36, r37, r38, r39, r40]
fine = {1: (r2_fine_depth, r2_fine), 2: (r3_fine_depth, r3_fine), 18: (r19_fine_depth, r19_fine)}

palette = ['#e8282b', '#35638f', '#f4b23c', '#45b676', '#5a5c9f', '#b3b3b7', '#ef6e72', '#6496cf',
           '#c86a2c', '#24968f', '#5b60b2', '#a2978f', '#c8393d', '#699a9b', '#c89632']


def build_track(vals, n):
    xs, ys = [], []
    for k in range(len(seg_start)):
        a, b = seg_start[k], seg_end[k]
        inner = []
        if n in fine:
            fd, fv = fine[n]
            inner = [(d, v) for d, v in zip(fd, fv) if a < d < b]
        if inner:
            xs += [a] + [d for d, _ in inner] + [b]
            ys += [vals[3 * k]] + [v for _, v in inner] + [vals[3 * k + 2]]
        else:
            xs += [a, (a + b) / 2, b]
            ys += vals[3 * k:3 * k + 3]
        nxt = seg_start[k + 1] if k + 1 < len(seg_start) else 1e9
        for d, p in zip(joint_depth, joint_peak):
            if b < d < nxt:
                xs.append(d)
                ys.append(p)
        if k == 7:
            xs += burst1_depth
            ys += burst1[n]
        if k == 8:
            xs += burst2_depth
            ys += burst2[n]
    return xs, ys


fig = plt.figure(figsize=(10.76, 8.05), dpi=100)
ax = fig.add_axes([79 / 1076, 70 / 805, 909 / 1076, 720 / 805])

for i, vals in enumerate(curves):
    xs, ys = build_track(vals, i)
    ax.plot(xs, ys, color=palette[i % 15], lw=1.8, label=str(i + 1))

ax.add_patch(Rectangle((3801.8, 44.0), 8.3, 23.7, fill=False, ec='#222222', lw=1.8,
                       ls=(0, (3.5, 2.2)), zorder=5))
ax.text(0.494, 0.972, 'A3H局部变形点', transform=ax.transAxes, color='#ee2b2b',
        fontsize=16.5, ha='center', va='center')

ax.set_xlim(3720, 3900)
ax.set_ylim(35, 70)
ax.set_xticks(range(3720, 3901, 20))
ax.set_xticks(range(3730, 3900, 20), minor=True)
ax.set_yticks(range(35, 71, 5))
ax.set_yticks([37.5, 42.5, 47.5, 52.5, 57.5, 62.5, 67.5], minor=True)
ax.tick_params(which='both', direction='in', top=False, right=False, labelsize=13, width=0.9, color='#333333')
ax.tick_params(which='major', length=10.8)
ax.tick_params(which='minor', length=5.4)
ax.tick_params(axis='x', pad=10)
ax.tick_params(axis='y', pad=8)
for s in ax.spines.values():
    s.set_linewidth(1.0)
    s.set_color('#333333')

ax.set_xlabel('井深/m', fontsize=16)
ax.set_ylabel('套管内半径/mm', fontsize=16)
ax.xaxis.set_label_coords(0.476, -0.058)
ax.yaxis.set_label_coords(-0.047, 0.5)

leg = ax.legend(loc='upper left', bbox_to_anchor=(1012 / 1076, 1 - 25 / 805),
                bbox_transform=fig.transFigure, fontsize=8, frameon=True, fancybox=False,
                borderaxespad=0, labelspacing=0.655, handlelength=3.3, handletextpad=0.4,
                borderpad=0.35)
leg.get_frame().set_edgecolor('black')
leg.get_frame().set_linewidth(1.2)

fig.savefig('out.png', dpi=100)
